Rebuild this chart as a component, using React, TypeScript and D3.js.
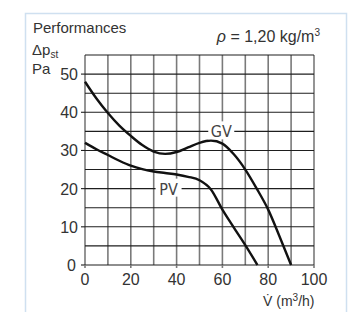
import React from "react";
import * as d3 from "d3";

const xTicks = [0, 20, 40, 60, 80, 100];
const yTicks = [0, 10, 20, 30, 40, 50];
const xGrid = [0, 10, 20, 30, 40, 50, 60, 70, 80, 90, 100];
const yGrid = [0, 5, 10, 15, 20, 25, 30, 35, 40, 45, 50, 55];

const gvFlow = [0, 5, 10, 15, 20, 25, 30, 35, 40, 45, 50, 55, 60, 65, 70, 75, 80, 85, 90];
const gvPressure = [48, 43.6, 39.8, 36.5, 33.8, 31.4, 29.7, 29.1, 29.6, 30.8, 32, 32.6, 31.8, 29, 25, 20, 14.5, 7.4, 0];

const pvFlow = [0, 5, 10, 15, 20, 25, 30, 35, 40, 45, 50, 55, 60, 65, 70, 75.3];
const pvPressure = [32, 30.3, 28.8, 27.3, 26, 25.1, 24.5, 24.1, 23.7, 23.1, 22.2, 19.8, 14.5, 9.8, 5.2, 0];

const seriesLabels = [
  { name: "GV", x: 59.5, y: 35 },
  { name: "PV", x: 36.5, y: 20 },
];

export default function App() {
  const W = 349;
  const H = 312;
  const x = d3.scaleLinear().domain([0, 100]).range([85, 314]);
  const y = d3.scaleLinear().domain([0, 55]).range([265, 55]);
  const line = d3
    .line<[number, number]>()
    .x((d) => x(d[0]))
    .y((d) => y(d[1]))
    .curve(d3.curveMonotoneX);
  const gv = gvFlow.map((f, i) => [f, gvPressure[i]] as [number, number]);
  const pv = pvFlow.map((f, i) => [f, pvPressure[i]] as [number, number]);
  const font = "'Liberation Sans', Arial, Helvetica, sans-serif";
  const narrow = "'Liberation Sans Narrow', 'DejaVu Sans Condensed', 'Liberation Sans', sans-serif";
  const txt = "#333";

  return (
    <svg
      width={W}
      height={H}
      style={{ position: "absolute", left: 0, top: 0, background: "#fff" }}
    >
      <rect x={25.5} y={13.5} width={321} height={320} fill="#fff" stroke="#cfe0f0" strokeWidth={1.5} />
      {/* vertical grid */}
      {xGrid.map((v) => (
        <line key={"vx" + v} x1={x(v)} x2={x(v)} y1={y(55)} y2={y(0)} stroke="#7a7a7a" strokeWidth={1.6} />
      ))}
      {/* horizontal grid */}
      {yGrid.map((v) => (
        <line key={"hy" + v} x1={x(0)} x2={x(100)} y1={y(v)} y2={y(v)} stroke="#1e1e1e" strokeWidth={1.1} />
      ))}
      {/* ticks */}
      {yTicks.map((v) => (
        <line key={"ty" + v} x1={x(0) - 4} x2={x(0)} y1={y(v)} y2={y(v)} stroke="#1e1e1e" strokeWidth={1.1} />
      ))}
      {xTicks.map((v) => (
        <line key={"tx" + v} x1={x(v)} x2={x(v)} y1={y(0)} y2={y(0) + 3} stroke="#7a7a7a" strokeWidth={1.6} />
      ))}
      {/* curves */}
      <path d={line(gv) || ""} fill="none" stroke="#111" strokeWidth={2.4} />
      <path d={line(pv) || ""} fill="none" stroke="#111" strokeWidth={2.4} />
      {/* series labels */}
      {seriesLabels.map((s) => (
        <g key={s.name}>
          <rect x={x(s.x) - 13} y={y(s.y) - 10} width={26} height={18} fill="#fff" />
          <text
            x={x(s.x)}
            y={y(s.y) + 6}
            textAnchor="middle"
            fontFamily={narrow}
            fontSize={16}
            fill="#444"
          >
            {s.name}
          </text>
        </g>
      ))}
      {/* tick labels */}
      {yTicks.map((v) => (
        <text
          key={"ly" + v}
          x={v === 0 ? 76 : 78}
          y={y(v) + 6}
          textAnchor="end"
          fontFamily={font}
          fontSize={16}
          fill={txt}
        >
          {v}
        </text>
      ))}
      {xTicks.map((v) => (
        <text key={"lx" + v} x={x(v)} y={285} textAnchor="middle" fontFamily={font} fontSize={16} fill={txt}>
          {v}
        </text>
      ))}
      {/* titles */}
      <text x={33} y={33} fontFamily={font} fontSize={15} fill={txt}>
        Performances
      </text>
      <text x={32} y={55} fontFamily={font} fontSize={15} fill={txt}>
        Δp
        <tspan fontSize={10} dy={3}>st</tspan>
      </text>
      <text x={32} y={74} fontFamily={font} fontSize={15} fill={txt}>
        Pa
      </text>
      <text x={320} y={42} textAnchor="end" fontFamily={font} fontSize={16} fill={txt}>
        <tspan fontStyle="italic">ρ</tspan> = 1,20 kg/m
        <tspan fontSize={10} dy={-6}>3</tspan>
      </text>
      <text x={263} y={306} fontFamily={font} fontSize={14} fill={txt}>
        {"V\u0307 (m"}
        <tspan fontSize={10} dy={-5}>3</tspan>
        <tspan dy={5}>/h)</tspan>
      </text>
    </svg>
  );
}
